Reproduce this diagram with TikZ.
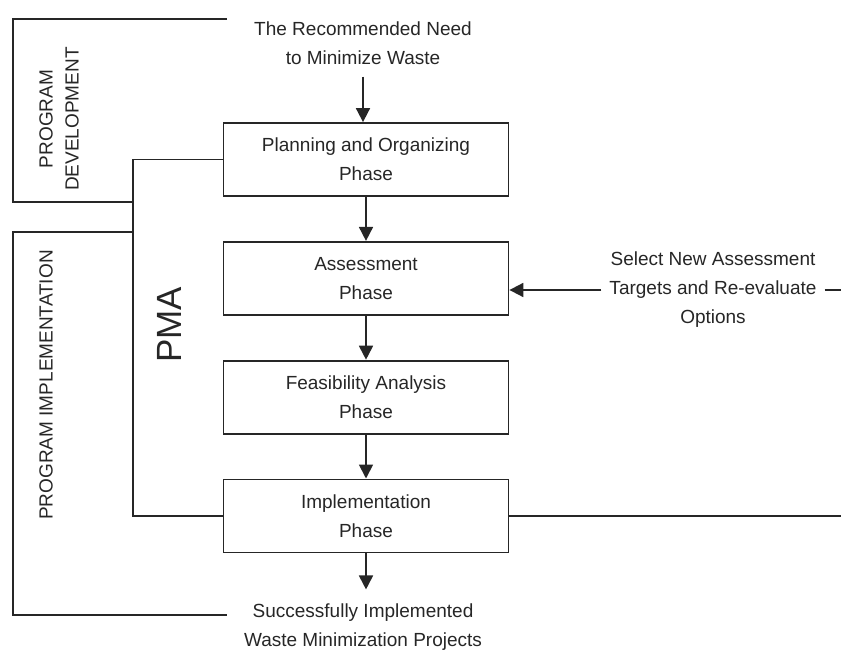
\documentclass[tikz,border=0pt]{standalone}
\usepackage{fontspec}
\setmainfont{Liberation Sans}
\usetikzlibrary{arrows.meta,positioning}

\tikzset{
    phase/.style={draw, line width=1.8pt, minimum width=285pt, minimum height=73pt, align=center, font=\fontsize{19}{29}\selectfont},
    txt/.style={align=center, font=\fontsize{19}{29}\selectfont},
    flow/.style={line width=1.8pt, -{Triangle[length=14pt,width=14pt]}},
    brace/.style={line width=1.8pt},
}

\begin{document}
\begin{tikzpicture}[x=1pt, y=-1pt, color=black!85, node distance=44pt]
    \useasboundingbox (0,0) rectangle (841,650);
    \coordinate (edge) at (841,0);
    % the phases
    \node[txt, inner ysep=12pt] (need) at (363,43) {The Recommended Need\\to Minimize Waste};
    \node[phase] (plan) at (366,159.5) {Planning and Organizing\\Phase};
    \node[phase, below=of plan] (assess) {Assessment\\Phase};
    \node[phase, below=of assess] (feas) {Feasibility Analysis\\Phase};
    \node[phase, below=of feas] (impl) {Implementation\\Phase};
    \node[txt, inner ysep=14pt] (done) at (363,627) {Successfully Implemented\\Waste Minimization Projects};
    \draw[flow] (need) -- (need |- plan.north);
    \draw[flow] (plan) -- (assess);
    \draw[flow] (assess) -- (feas);
    \draw[flow] (feas) -- (impl);
    \draw[flow] (impl) -- (impl.south |- done.north);
    % feedback on the right
    \node[txt, inner xsep=8pt] (select) at (713,290) {Select New Assessment\\Targets and Re-evaluate\\Options};
    \draw[flow] (select.west) -- (select.west -| assess.east);
    \draw[brace] (select.east) -- (select.east -| edge);
    \draw[brace] (impl.east) -- (impl.east -| edge);
    % brackets on the left
    \draw[brace] (227,19) -- (13,19) -- (13,202) -- (133,202);
    \draw[brace] (133,232) -- (13,232) -- (13,615) -- (227,615);
    \draw[brace] (plan.west) -- ++(-90,0) |- (impl.west);
    \node[txt, rotate=90, font=\fontsize{19}{26}\selectfont] (dev) at (59,119) {PROGRAM\\DEVELOPMENT};
    \node[txt, rotate=90] (implab) at (46,385) {PROGRAM IMPLEMENTATION};
    \node[rotate=90, font=\fontsize{35}{40}\selectfont] (pma) at (169,325) {PMA};
\end{tikzpicture}
\end{document}
